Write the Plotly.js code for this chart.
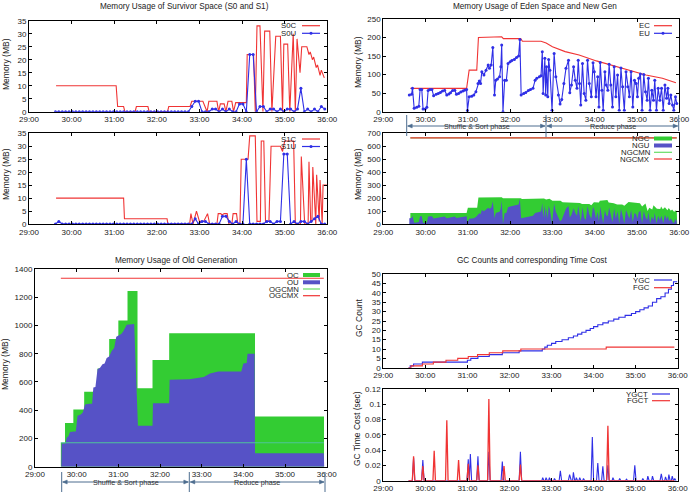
<!DOCTYPE html>
<html><head><meta charset="utf-8">
<script src="https://cdn.plot.ly/plotly-3.0.1.min.js"></script>
<style>html,body{margin:0;padding:0;background:#fff}</style>
</head><body><div id="chart" style="width:692px;height:496px"></div>
<script>
// ---------- DATA ----------
const tickVals = [29,30,31,32,33,34,35,36];
const tickText = ['29:00','30:00','31:00','32:00','33:00','34:00','35:00','36:00'];

// Survivor space S0
const s0cT = [29.635,31.045,31.08,31.22,31.25,31.49,31.52,31.79,31.82,32.25,32.28,32.78,32.82,33.08,33.18,33.22,33.41,33.45,33.49,33.58,33.62,33.67,33.76,33.8,33.85,34.1,34.12,34.27,34.31,34.35,34.42,34.49,34.53,34.65,34.7,34.79,34.9,34.95,34.98,35.07,35.12,35.2,35.25,35.29,35.36,35.4,35.52,35.57,35.6,35.65,35.68,35.74,35.77,35.83,35.86,35.93];
const s0cV = [10,10,2,2,0,0,2,2,0,0,2,2,4,4,0,4,4,0,3,3,0,4,4,0,3.5,3.5,22,22,0,33,33,0,31,31,0,29,29,0,26,26,0,30,0,28,15,25,25,22,23,20,21,17,18,14,16,13];
const survT = [29.62,29.70,29.78,29.86,29.94,30.02,30.10,30.18,30.26,30.34,30.42,30.50,30.58,30.66,30.74,30.82,30.90,30.98,31.06,31.14,31.22,31.30,31.38,31.46,31.54,31.62,31.70,31.78,31.86,31.94,32.02,32.10,32.18,32.26,32.34,32.42,32.50,32.58,32.66,32.74,32.82,32.90,32.98,33.06,33.14,33.22,33.30,33.38,33.46,33.54,33.62,33.70,33.78,33.86,33.94,34.02,34.10,34.18,34.26,34.34,34.42,34.50,34.58,34.66,34.74,34.82,34.90,34.98,35.06,35.14,35.22,35.30,35.38,35.46,35.54,35.62,35.70,35.78,35.86,35.94];
const s0uV = [0,0,0,0,0,0,0,0,0,0, 0,0,0,0,0,0,0,0,0,0, 0,0,0,0,0,0,0,0,0,0, 0,0,0,0,0,0,0,0,0,0, 2,4,4,0,0,0,1,1,0,1, 0,1,0,0,3,3,0,22,22,0, 2,2,0,1,1,0,1,0,1,1, 0,1,9,0,1,0,1,0,2,1];
// Survivor space S1
const s1cT = [29.635,31.22,31.24,32.24,32.26,32.77,32.8,32.85,32.93,33.0,33.1,33.19,33.24,33.41,33.44,33.5,33.53,33.58,33.65,33.69,33.76,33.79,33.87,33.9,33.95,33.98,34.14,34.18,34.31,34.35,34.43,34.45,34.51,34.55,34.63,34.68,34.9,34.95,35.0,35.21,35.25,35.37,35.39,35.47,35.55,35.57,35.61,35.64,35.66,35.72,35.73,35.75,35.8,35.81,35.83,35.88,35.9,35.99];
const s1cV = [10,10,2,2,0,0,4,0,5,1,1,4,0,0,4,4,3.5,4,4,0,0,4,4,0,0,25,25,34,34,1,1,32,32,1,1,30,30,28,32,32,0,0,26,0,0,24,1,1,22,0,0,19,1,1,17,0,15,15];
const s1uV = [0,1,0,0,0,0,0,0,0,0, 0,0,0,0,0,0,0,0,0,0, 0,0,0,0,0,0,0,0,0,0, 0,0,0,0,0,0,0,0,0,0, 0,2,0,1,1,0,0,0,0,3, 3,1,0,1,0,0,25,0,0,0, 0,0,1,1,0,1,1,27,27,0, 1,0,1,1,0,1,2,3,0,0];

// Eden space
const ecT = [29.64,30.97,31.03,31.21,31.25,31.58,31.62,31.8,31.84,32.25,32.29,32.73,32.85,33.0,33.3,33.63,34.04,34.42,34.82,35.21,35.6,35.92];
const ecV = [63,63,112,112,200,200,202,202,197,197,190,190,185,175,162,153,137,124,111,99,90,78];
const euT = [29.615,29.67,29.69,29.73,29.79,29.84,29.87,29.91,29.94,29.99,30.03,30.06,30.10,30.15,30.19,30.25,30.30,30.35,30.40,30.45,30.50,30.55,30.59,30.64,30.69,30.73,30.78,30.83,30.88,30.92,30.97,30.99,31.03,31.09,31.14,31.19,31.24,31.27,31.30,31.33,31.38,31.43,31.48,31.51,31.55,31.59,31.63,31.66,31.70,31.75,31.78,31.80,31.83,31.87,31.91,31.95,32.00,32.04,32.10,32.15,32.20,32.23,32.26,32.32,32.37,32.43,32.48,32.54,32.59,32.63,32.69,32.73,32.76,32.78,32.82,32.84,32.86,32.89,32.91,32.94,32.99,33.04,33.08,33.14,33.18,33.22,33.27,33.32,33.38,33.41,33.45,33.50,33.54,33.58,33.61,33.64,33.67,33.71,33.75,33.79,33.83,33.87,33.92,33.96,33.99,34.03,34.07,34.10,34.13,34.17,34.20,34.24,34.27,34.31,34.34,34.38,34.42,34.46,34.50,34.54,34.58,34.62,34.66,34.70,34.74,34.78,34.82,34.86,34.90,34.94,34.98,35.01,35.04,35.08,35.12,35.16,35.20,35.24,35.27,35.31,35.35,35.39,35.42,35.46,35.50,35.54,35.58,35.62,35.66,35.70,35.73,35.76,35.80,35.84,35.87,35.91,35.94];
const euV = [45,47,63,9,12,15,60,60,7,7, 12,57,60,60,43,47,49,52,56,58, 45,48,51,57,58,47,49,53,56,58, 60,3,40,42,45,54,76,83,76,108, 99,112,126,117,126,173,45,85,88,94, 121,180,0,85,85,130,135,138,141,146, 150,195,45,49,52,57,60,63,85,90, 94,97,162,49,144,45,121,40,141,112, 4,157,94,45,21,33,76,117,139,51, 72,121,85,63,139,76,18,130,49,31, 139,76,40,132,108,40,94,13,133,58, 4,108,72,58,128,72,13,121,40,99, 4,118,67,4,108,67,40,108,13,85, 76,40,90,102,4,100,54,31,90,4, 58,31,85,4,63,31,63,4,72,36, 63,22,45,18,4,40,22];

// New generation
const ngcT = [29.64,30.97,31.0,31.22,31.25,31.6,31.62,31.8,31.83,32.25,32.28,32.75,32.8,32.85,32.93,33.0,33.1,33.19,33.24,33.44,33.65,33.7,33.8,33.87,33.92,33.98,34.1,34.12,34.3,34.33,34.45,34.53,34.65,34.7,34.8,34.92,34.97,35.07,35.12,35.2,35.25,35.29,35.36,35.39,35.47,35.55,35.57,35.61,35.66,35.72,35.75,35.8,35.83,35.88,35.9,35.94,35.95];
const ngcV = [85,85,125,125,205,205,207,207,199,199,192,192,196,190,195,180,178,180,168,166,162,155,158,155,145,168,165,180,185,166,160,150,150,140,170,165,160,160,135,158,100,125,112,145,118,115,135,113,130,107,124,103,111,93,104,100,0];
const nguT = euT;
const nguV = euV;
const ngLimT = [29.64,35.94];
const ngcmnV = [665,665];
const ngcmxV = [665,665];

// Old generation
const ocT = [29.615,29.62,29.72,29.92,30.18,30.5,30.78,31.0,31.22,31.46,31.82,32.22,34.28,35.93,35.935];
const ocV = [0,170,310,405,530,695,905,1035,1245,555,755,945,355,355,0];
const ouT = [29.63,29.64,29.73,29.76,29.80,29.84,29.94,29.98,30.02,30.10,30.15,30.20,30.30,30.37,30.40,30.45,30.50,30.56,30.62,30.67,30.72,30.78,30.84,30.90,30.95,31.02,31.07,31.12,31.20,31.38,31.47,31.82,31.83,32.22,32.23,32.70,32.90,33.05,33.20,33.40,33.95,34.00,34.08,34.10,34.27,34.28,35.93,35.94];
const ouV = [0,165,165,205,215,245,250,250,360,370,385,440,445,445,560,565,690,700,725,730,770,780,820,840,920,935,940,960,1005,1010,290,290,450,450,615,620,630,635,660,675,675,730,735,800,800,95,95,0];
const ogLimT = [29.62,35.93];
const ogcmnV = [170,170];
const ogcmxV = [1334,1334];

// GC counts
const ygcT = [29.60,29.64,29.72,29.93,31.00,31.08,31.25,31.52,31.83,32.23,32.78,32.84,32.90,33.00,33.10,33.25,33.40,33.52,33.62,33.72,33.82,33.92,34.00,34.10,34.22,34.35,34.48,34.60,34.75,34.90,35.00,35.10,35.20,35.30,35.40,35.50,35.60,35.70,35.78,35.85,35.90,35.99];
const ygcV = [0,1,2,3,4,5,6,7,8,9,10,11,12,13,14,15,16,17,18,19,20,21,22,23,24,25,26,27,28,29,30,31,32,33,35,37,38,40,42,44,46,46];
const fgcT = [29.60,29.66,29.93,30.19,30.49,30.77,31.02,31.24,31.52,31.84,32.27,34.30,35.92];
const fgcV = [0,1,2,3,4,5,6,7,8,9,10,11,11];

// GC time cost
const ygctT = [29.60,29.69,29.72,29.75,29.91,29.94,29.97,30.99,31.02,31.045,31.07,31.10,31.22,31.25,31.28,31.48,31.51,31.54,31.80,31.83,31.86,32.23,32.26,32.29,32.77,32.79,32.82,32.85,32.87,32.90,32.93,32.95,32.98,33.05,33.07,33.10,33.18,33.21,33.24,33.40,33.43,33.47,33.50,33.52,33.55,33.57,33.59,33.62,33.65,33.67,33.70,33.74,33.76,33.79,33.94,33.97,34.00,34.07,34.10,34.13,34.19,34.22,34.25,34.31,34.34,34.37,34.44,34.46,34.49,34.60,34.62,34.65,34.76,34.78,34.81,34.95,34.98,35.01,35.15,35.17,35.20,35.27,35.29,35.32,35.38,35.40,35.43,35.58,35.61,35.64,35.69,35.71,35.74,35.77,35.79,35.82,35.85,35.87,35.90,35.91,35.93,35.96];
const ygctV = [0,0,0.03,0,0,0.027,0,0,0.028,0, 0.035,0,0,0.032,0,0,0.038,0,0,0.025, 0,0,0.038,0,0,0.004,0,0,0.004,0, 0,0.004,0,0,0.003,0,0,0.013,0,0, 0.008,0,0,0.011,0,0,0.004,0,0,0.004, 0,0,0.003,0,0,0.057,0,0,0.023,0, 0,0.019,0,0,0.020,0,0,0.004,0,0, 0.003,0,0,0.002,0,0,0.020,0,0,0.003, 0,0,0.006,0,0,0.006,0,0,0.009,0, 0,0.005,0,0,0.008,0,0,0.006,0,0, 0.003,0];
const fgctT = [29.60,29.69,29.72,29.75,29.91,29.94,29.97,30.18,30.21,30.24,30.48,30.51,30.54,30.76,30.79,30.82,30.99,31.02,31.05,31.22,31.25,31.28,31.48,31.51,31.54,31.84,31.87,31.90,32.23,32.26,32.29,34.31,34.34,34.37,35.92];
const fgctV = [0,0,0.032,0,0,0.019,0,0,0.039,0,0,0.079,0,0,0.027,0,0,0.022,0,0,0.02,0,0,0.107,0,0,0.019,0,0,0.021,0,0,0.072,0,0];
const gctTicks = [0,0.02,0.04,0.06,0.08,0.1,0.12];
const gctTickText = ['0','0.02','0.04','0.06','0.08','0.1','0.12'];

// ---------- STYLE ----------
const W = 692, H = 496;
const FONT = 'Liberation Sans, Arial, sans-serif';
const RED = '#f03434', BLUE = '#2f2fe6', GREEN = '#33cc33', FBLUE = '#5652c6', ARROW = '#4d6d8f';
const px = x => x / W, py = y => 1 - y / H;

function xax(d0, d1, anchor) {
  return {domain:[px(d0), px(d1)], anchor, range:[29,36], tickvals:tickVals, ticktext:tickText,
    ticks:'inside', ticklen:3, tickcolor:'#000', showline:true, linecolor:'#000', linewidth:1,
    mirror:'ticks', showgrid:false, zeroline:false, fixedrange:true,
    tickfont:{family:FONT, size:8, color:'#222'}};
}
function yax(t, b, anchor, range, dtick, extra) {
  return Object.assign({domain:[py(b), py(t)], anchor, range, dtick, tick0:0,
    ticks:'inside', ticklen:3, tickcolor:'#000', showline:true, linecolor:'#000', linewidth:1,
    mirror:'ticks', showgrid:false, zeroline:false, fixedrange:true,
    tickfont:{family:FONT, size:8, color:'#222'}}, extra || {});
}

const lineT = (x, y, color, xa, ya, w) => ({x, y, xaxis:xa, yaxis:ya, type:'scatter', mode:'lines',
  line:{color, width:w || 1.1}, hoverinfo:'skip', showlegend:false});
const lmT = (x, y, color, xa, ya) => ({x, y, xaxis:xa, yaxis:ya, type:'scatter', mode:'lines+markers',
  line:{color, width:1.1}, marker:{color, size:3, symbol:'circle'}, hoverinfo:'skip', showlegend:false});
const areaT = (x, y, color, xa, ya, shape) => ({x, y, xaxis:xa, yaxis:ya, type:'scatter', mode:'lines',
  fill:'tozeroy', fillcolor:color, line:{color, width:0, shape:shape || 'linear'}, hoverinfo:'skip', showlegend:false});

const traces = [
  lineT(s0cT, s0cV, RED, 'x', 'y'),
  lmT(survT, s0uV, BLUE, 'x', 'y'),
  lineT(s1cT, s1cV, RED, 'x2', 'y2'),
  lmT(survT, s1uV, BLUE, 'x2', 'y2'),
  lineT(ecT, ecV, RED, 'x3', 'y3'),
  lmT(euT, euV, BLUE, 'x3', 'y3'),
  areaT(ngcT, ngcV, GREEN, 'x4', 'y4'),
  areaT(nguT, nguV, FBLUE, 'x4', 'y4'),
  lineT(ngLimT, ngcmnV, '#66dd66', 'x4', 'y4'),
  lineT(ngLimT, ngcmxV, RED, 'x4', 'y4'),
  areaT(ocT, ocV, GREEN, 'x5', 'y5', 'hv'),
  areaT(ouT, ouV, FBLUE, 'x5', 'y5'),
  lineT(ogLimT, ogcmnV, '#4fc49a', 'x5', 'y5'),
  lineT(ogLimT, ogcmxV, RED, 'x5', 'y5'),
  Object.assign(lineT(ygcT, ygcV, BLUE, 'x6', 'y6'), {line:{color:BLUE, width:1.1, shape:'hv'}}),
  Object.assign(lineT(fgcT, fgcV, RED, 'x6', 'y6'), {line:{color:RED, width:1.1, shape:'hv'}}),
  lineT(ygctT, ygctV, BLUE, 'x7', 'y7'),
  lineT(fgctT, fgctV, RED, 'x7', 'y7', 1.3)
];

// ---------- ANNOTATIONS / SHAPES ----------
const ann = [];
const shapes = [];
function txt(text, x, y, opts) {
  ann.push(Object.assign({text, x:px(x), y:py(y), xref:'paper', yref:'paper', showarrow:false,
    xanchor:'center', yanchor:'middle', font:{family:FONT, size:8, color:'#222'}}, opts || {}));
}
const TF = {family:FONT, size:8.2, color:'#222'};
txt('Memory Usage of Survivor Space (S0 and S1)', 184.7, 6.5, {font:TF});
txt('Memory Usage of Eden Space and New Gen', 534.5, 6.5, {font:TF});
txt('Memory Usage of Old Generation', 176, 260, {font:TF});
txt('GC Counts and corresponding Time Cost', 531.5, 260.7, {font:TF});
const yt = (t, x, y) => txt(t, x, y, {textangle:-90, font:{family:FONT, size:8.5, color:'#222'}});
yt('Memory (MB)', 6, 64); yt('Memory (MB)', 6, 174);
yt('Memory (MB)', 358, 62); yt('Memory (MB)', 358, 174);
yt('Memory (MB)', 5, 364); yt('GC Count', 359, 318); yt('GC Time Cost (sec)', 357, 429);

function legend(items, xr, x0, x1) {
  items.forEach(([label, y, color, kind]) => {
    txt(label, xr, y, {xanchor:'right', font:{family:FONT, size:7.8, color:'#222'}});
    const w = kind === 'bar' ? 4 : 1.2;
    shapes.push({type:'line', xref:'paper', yref:'paper', x0:px(x0), x1:px(x1), y0:py(y), y1:py(y), line:{color, width:w}});
    if (kind === 'mark') {
      const cx = (x0 + x1) / 2;
      shapes.push({type:'circle', xref:'paper', yref:'paper', x0:px(cx-1.5), x1:px(cx+1.5), y0:py(y+1.5), y1:py(y-1.5), fillcolor:color, line:{color, width:0}});
    }
  });
}
legend([['S0C',25.7,RED,'line'],['S0U',33.3,BLUE,'mark']], 299, 302, 320);
legend([['S1C',139,RED,'line'],['S1U',146.5,BLUE,'mark']], 299, 302, 320);
legend([['EC',25.7,RED,'line'],['EU',33.3,BLUE,'mark']], 652, 654, 672);
legend([['NGC',138.5,GREEN,'bar'],['NGU',145.5,FBLUE,'bar'],['NGCMN',152.3,'#66dd66','line'],['NGCMX',159,RED,'line']], 652, 654, 672);
legend([['OC',275,GREEN,'bar'],['OU',282.3,FBLUE,'bar'],['OGCMN',289,'#66dd66','line'],['OGCMX',295.7,RED,'line']], 301, 303, 320);
legend([['YGC',280,BLUE,'line'],['FGC',287.7,RED,'line']], 652, 654, 672);
legend([['YGCT',394,BLUE,'line'],['FGCT',400.7,RED,'line']], 650, 652, 670);

// phase markers (lines + arrowheads as shapes)
function seg(x0, y0, x1, y1) {
  shapes.push({type:'line', xref:'paper', yref:'paper', x0:px(x0), x1:px(x1), y0:py(y0), y1:py(y1), line:{color:ARROW, width:1}});
}
function head(x, y, dir) {
  const L = 4.5, h = 2;
  const p = `M${px(x)},${py(y)} L${px(x + dir*L)},${py(y - h)} L${px(x + dir*L)},${py(y + h)} Z`;
  shapes.push({type:'path', xref:'paper', yref:'paper', path:p, fillcolor:ARROW, line:{color:ARROW, width:0.5}});
}
function darrow(xa, xb, y) { seg(xa + 1, y, xb - 1, y); head(xa + 1, y, 1); head(xb - 1, y, -1); }
seg(406.7, 115, 406.7, 136); seg(546, 115, 546, 137); seg(678.7, 115, 678.7, 131);
darrow(406.7, 546, 126); darrow(546, 678.7, 126);
const PF = {family:FONT, size:7.2, color:'#333'};
txt('Shuffle & Sort phase', 476.5, 126, {font:PF});
txt('Reduce phase', 612.5, 126, {font:PF});
seg(61.7, 472, 61.7, 492); seg(189.3, 472, 189.3, 492); seg(325, 472, 325, 492);
darrow(61.7, 189.3, 482); darrow(189.3, 325, 482);
txt('Shuffle & Sort phase', 126, 482, {font:PF});
txt('Reduce phase', 257, 482, {font:PF});

const layout = {
  width:W, height:H, margin:{l:0, r:0, t:0, b:0}, paper_bgcolor:'#fff', plot_bgcolor:'#fff',
  showlegend:false, font:{family:FONT, size:8, color:'#222'},
  xaxis: xax(29, 327.3, 'y'),      yaxis: yax(20.7, 111.7, 'x', [0,35], 5),
  xaxis2: xax(29, 327.3, 'y2'),    yaxis2: yax(133.3, 224, 'x2', [0,35], 5),
  xaxis3: xax(383.3, 679.3, 'y3'), yaxis3: yax(19, 111.7, 'x3', [0,250], 50),
  xaxis4: xax(383.3, 679.3, 'y4'), yaxis4: yax(133.3, 224, 'x4', [0,700], 100),
  xaxis5: xax(35, 326.7, 'y5'),    yaxis5: yax(269, 466.7, 'x5', [0,1400], 200),
  xaxis6: xax(383.3, 677.7, 'y6'), yaxis6: yax(274.3, 367.7, 'x6', [0,50], 5),
  xaxis7: xax(383.3, 677.7, 'y7'), yaxis7: yax(389, 480.7, 'x7', [0,0.12], 0.02, {tickmode:'array', tickvals:gctTicks, ticktext:gctTickText}),
  annotations: ann, shapes: shapes
};
Plotly.newPlot('chart', traces, layout, {staticPlot:true, displayModeBar:false});
</script></body></html>
